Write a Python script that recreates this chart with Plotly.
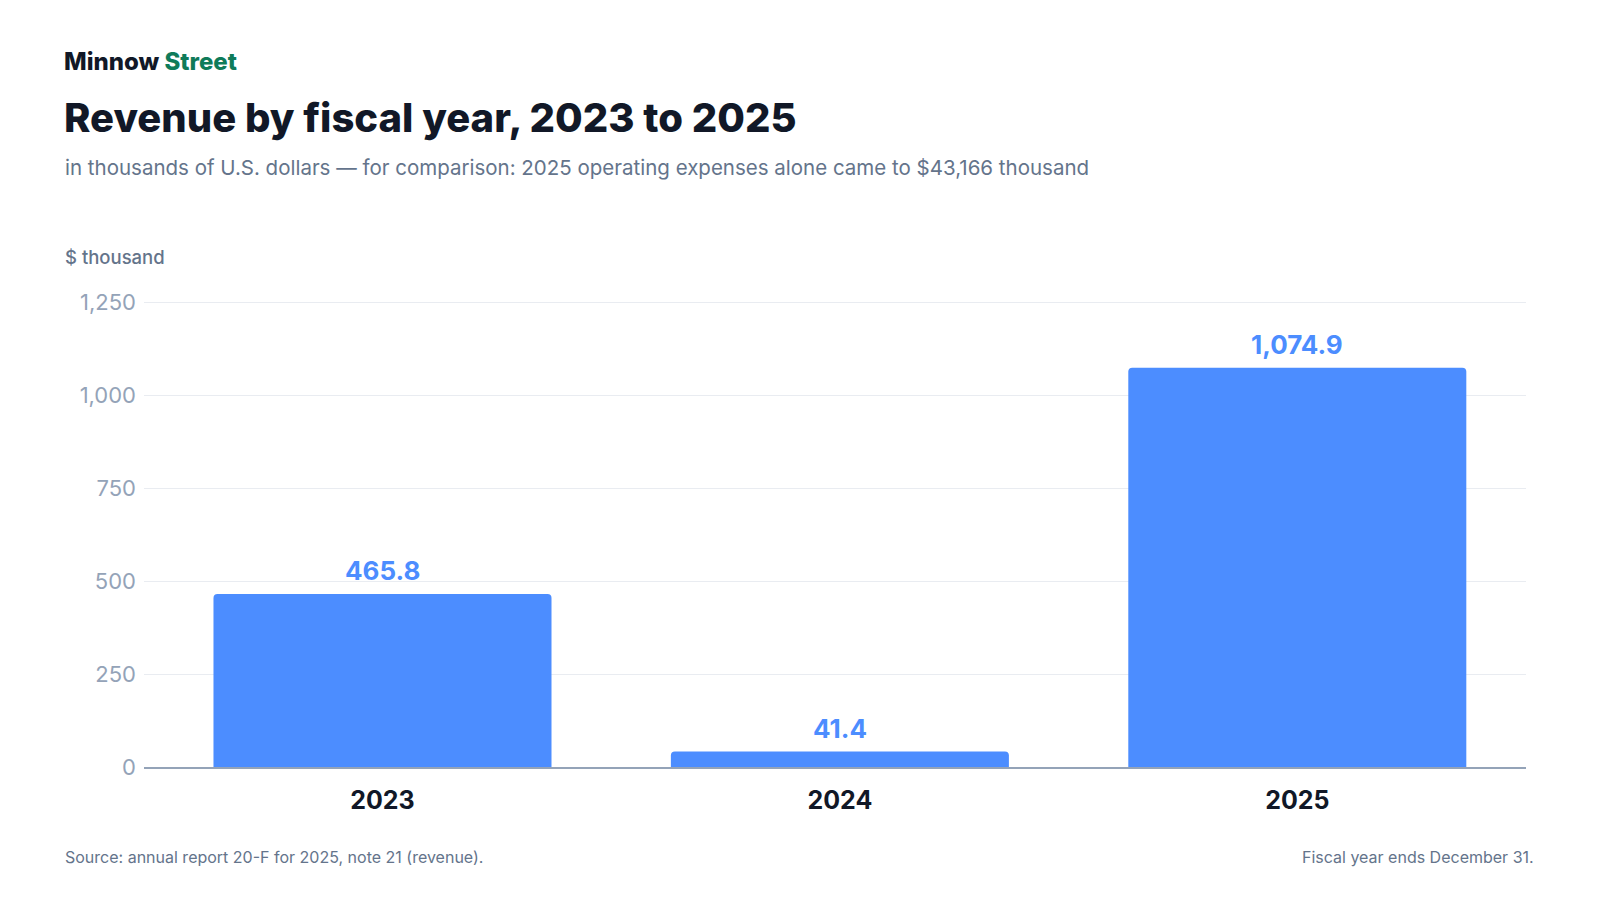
import plotly.graph_objects as go

years = ["2023", "2024", "2025"]
revenue = [465.8, 41.4, 1074.9]
tick_vals = [0, 250, 500, 750, 1000, 1250]
tick_text = ["0", "250", "500", "750", "1,000", "1,250"]
labels = ["465.8", "41.4", "1,074.9"]

FONT = "Inter"
BLUE = "#4C8DFF"

PLOT_L, PLOT_R = 144, 1526.5
ZERO_PX, G1250_PX = 767.3, 303.0
Y_MAX = 1265
TOP_PX = G1250_PX - (Y_MAX - 1250) * (ZERO_PX - G1250_PX) / 1250

fig = go.Figure(go.Bar(
    x=years, y=revenue,
    marker=dict(color=BLUE, line=dict(width=0), cornerradius=4),
    hoverinfo="skip",
))

# value labels: category axis positions use the category index
for i, (v, lab) in enumerate(zip(revenue, labels)):
    fig.add_annotation(x=i, y=v, xref="x", yref="y", text=lab, showarrow=False,
                       yanchor="middle", yshift=23,
                       font=dict(family=FONT, size=26, color=BLUE, weight=700))

fig.update_layout(
    width=1600, height=900,
    paper_bgcolor="white", plot_bgcolor="white",
    margin=dict(l=PLOT_L, r=1600 - PLOT_R, t=TOP_PX, b=900 - ZERO_PX),
    bargap=0.261,
    showlegend=False,
    font=dict(family=FONT),
    xaxis=dict(
        type="category", categoryorder="array", categoryarray=years,
        range=[-0.5214, len(years) - 0.5],
        tickfont=dict(family=FONT, size=25, color="#111827", weight=700),
        showgrid=False, showline=True, linecolor="#94A3B8", linewidth=2,
        ticks="", ticklen=0, ticklabelstandoff=10,
    ),
    yaxis=dict(
        range=[0, Y_MAX], tickvals=tick_vals, ticktext=tick_text,
        tickfont=dict(family=FONT, size=22, color="#94A3B8"),
        showgrid=True, gridcolor="#E9ECF1", gridwidth=1,
        zeroline=False, showline=False, ticks="", ticklabelstandoff=7,
    ),
)

W = PLOT_R - PLOT_L
H = ZERO_PX - TOP_PX
def px(xp):
    return (xp - PLOT_L) / W
def py(yp):
    return (ZERO_PX - yp) / H

def ann(x, y, text, size, color, weight=400, xanchor="left"):
    fig.add_annotation(xref="paper", yref="paper", x=px(x), y=py(y), text=text, showarrow=False,
                       xanchor=xanchor, yanchor="middle",
                       font=dict(family=FONT, size=size, color=color, weight=weight))

ann(62, 62, "Minnow <span style='color:#0F7B5A'>Street</span>", 24, "#111827", 800)
ann(62, 118, "Revenue by fiscal year, 2023 to 2025", 40, "#111827", 800)
ann(62.5, 168, "in thousands of U.S. dollars — for comparison: 2025 operating expenses alone came to $43,166 thousand", 20.5, "#64748B")
ann(62.5, 257, "$ thousand", 18.5, "#64748B", 500)
ann(62.5, 857, "Source: annual report 20-F for 2025, note 21 (revenue).", 16, "#64748B")
ann(1537, 857, "Fiscal year ends December 31.", 16, "#64748B", 400, "right")

fig.write_html("out.html", config={"displayModeBar": False},
               post_script="document.body.style.margin='0';document.body.style.overflow='hidden';")
